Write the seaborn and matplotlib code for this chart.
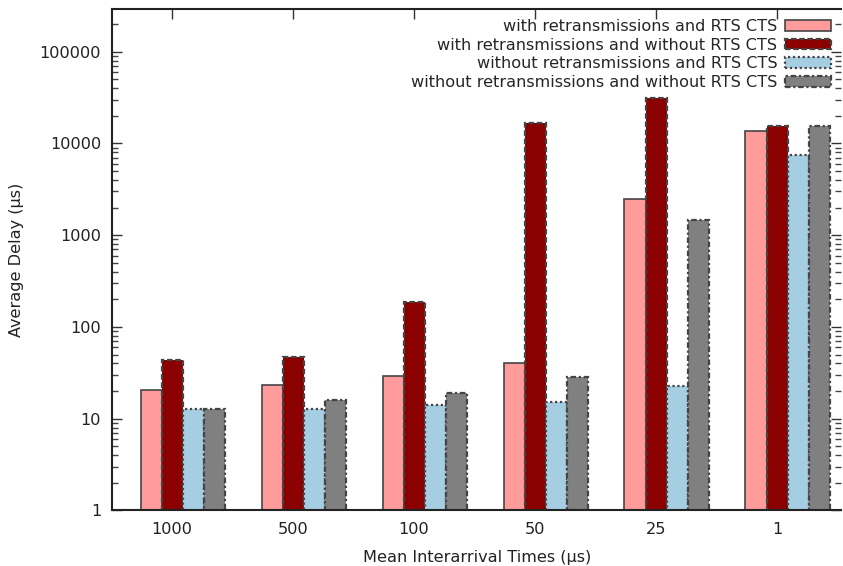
import numpy as np
import pandas as pd
import seaborn as sns
import matplotlib
matplotlib.use('Agg')
import matplotlib.pyplot as plt
from matplotlib.ticker import FixedLocator, FixedFormatter, LogLocator, NullFormatter

# data
times = ['1000', '500', '100', '50', '25', '1']
series = ['with retransmissions and RTS CTS',
          'with retransmissions and without RTS CTS',
          'without retransmissions and RTS CTS',
          'without retransmissions and without RTS CTS']
with_rts = [20.4, 23, 29.2, 40.4, 2460, 13700]
with_no_rts = [44, 46.6, 187, 16500, 30900, 15500]
without_rts = [12.9, 12.9, 14, 15.2, 22.5, 7430]
without_no_rts = [12.7, 15.8, 19, 28.4, 1480, 15500]
ytick_vals = [1, 10, 100, 1000, 10000, 100000]

colors = ['#ff9b9b', '#8b0000', '#a6cee3', '#808080']
styles = ['-', (0, (2.5, 1.2)), (0, (1, 1.2)), (0, (2.5, 1.2, 1, 1.2))]
edge_w = [1.2, 1.6, 1.6, 1.6]

df = pd.DataFrame({
    'time': times * 4,
    'series': np.repeat(series, len(times)),
    'delay': with_rts + with_no_rts + without_rts + without_no_rts,
})

sns.set_style('white')
plt.rcParams['font.family'] = ['DejaVu Sans']
FS = 11.6

fig = plt.figure(figsize=(8.43, 5.66), dpi=100)
ax = fig.add_axes([0.1332, 0.0982, 0.9976 - 0.1332, 0.9836 - 0.0982])

sns.barplot(data=df, x='time', y='delay', hue='series', order=times,
            hue_order=series, palette=colors, width=0.7,
            saturation=1, ax=ax, legend=False)
ax.set_yscale('log')

# gnuplot-like dashed borders around the bars
for cont, ls, lw in zip(ax.containers, styles, edge_w):
    for bar in cont:
        bar.set_edgecolor('#444444')
        bar.set_linewidth(lw)
        bar.set_linestyle(ls)

ax.set_ylim(1, 2.9e5)
off = 0.09
ax.set_xlim(-0.585, 5.44)
ax.set_xticks(np.arange(len(times)) - off)
ax.set_xticklabels(times)
ax.yaxis.set_major_locator(FixedLocator(ytick_vals))
ax.yaxis.set_major_formatter(FixedFormatter([str(v) for v in ytick_vals]))
ax.yaxis.set_minor_locator(LogLocator(base=10, subs=np.arange(2, 10)))
ax.yaxis.set_minor_formatter(NullFormatter())

ax.tick_params(axis='both', which='major', direction='in', length=7, width=1,
               color='#333333', labelsize=FS, labelcolor='#222222', pad=8,
               top=True, right=True, bottom=False, left=True)
ax.tick_params(axis='y', which='minor', direction='in', length=4, width=1,
               color='#444444', left=True, right=True)
for side in ['left', 'bottom', 'top']:
    ax.spines[side].set_color('#222222')
    ax.spines[side].set_linewidth(1.5)
ax.spines['right'].set_visible(False)

ax.set_xlabel('Mean Interarrival Times (µs)', fontsize=FS, color='#222222', labelpad=10)
ax.set_ylabel('Average Delay (µs)', fontsize=FS, color='#222222', labelpad=11)

ax.legend(handles=list(ax.containers), labels=series, loc='upper right',
          frameon=False, markerfirst=False, fontsize=FS, handlelength=2.85,
          handleheight=0.65, labelspacing=0.23, handletextpad=0.5,
          borderaxespad=0.2, borderpad=0.4)

fig.savefig('out.png', dpi=100)
